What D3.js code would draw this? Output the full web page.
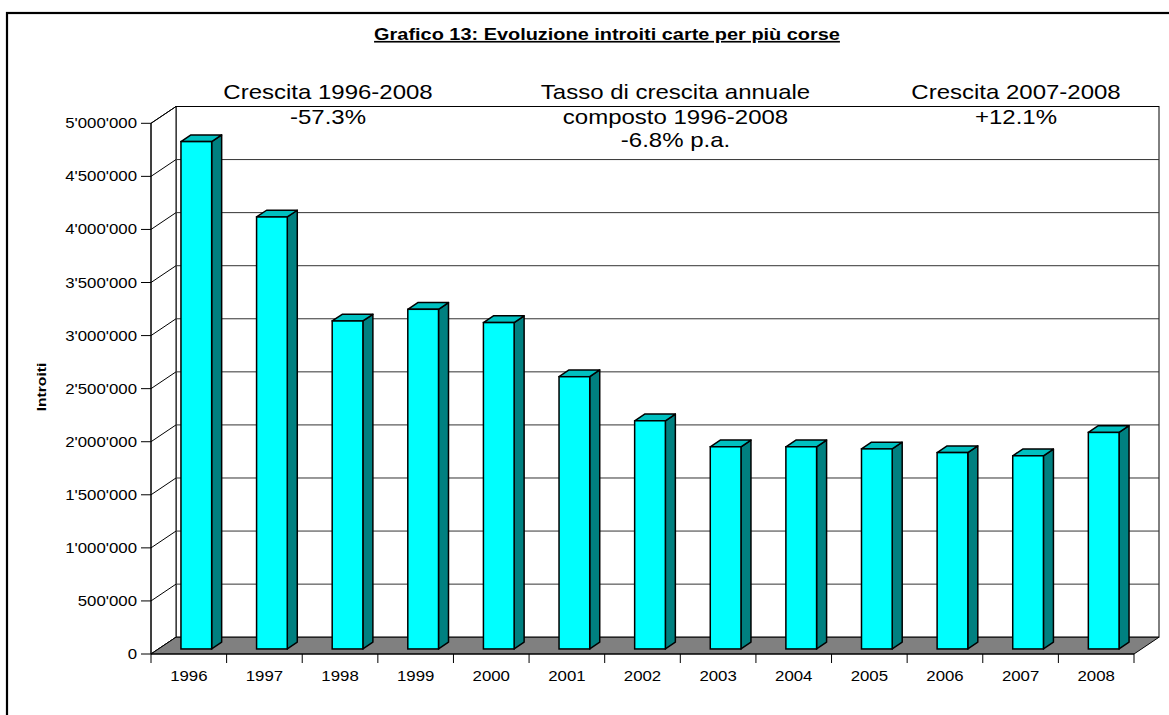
<!DOCTYPE html>
<html><head><meta charset="utf-8">
<script src="https://cdn.jsdelivr.net/npm/d3@7"></script>
<style>
html,body{margin:0;padding:0;background:#fff;}
text{font-family:"Liberation Sans",Arial,sans-serif;fill:#000;}
</style></head>
<body>
<svg id="c" width="1169" height="715"></svg>
<script>
const years = ["1996","1997","1998","1999","2000","2001","2002","2003","2004","2005","2006","2007","2008"];
const introiti = [4780000,4070000,3090000,3200000,3075000,2565000,2150000,1905000,1905000,1885000,1850000,1820000,2040000];
const yTicks = [0,500000,1000000,1500000,2000000,2500000,3000000,3500000,4000000,4500000,5000000];
const titleText = "Grafico 13: Evoluzione introiti carte per più corse";
const yAxisTitle = "Introiti";
const notes = [
  {cx:328, lines:["Crescita 1996-2008","-57.3%"]},
  {cx:675.5, lines:["Tasso di crescita annuale","composto 1996-2008","-6.8% p.a."]},
  {cx:1016, lines:["Crescita 2007-2008","+12.1%"]}
];

const svg = d3.select("#c");
const SX = 1.2;
const DX = 25, DY = -16.8;
const x0 = 151, x1 = 1134;
const y = d3.scaleLinear().domain([0,5000000]).range([654,123.3]);
const xb = d3.scaleBand().domain(years).range([x0,x1]).paddingInner(0.594).paddingOuter(0.297);
const xc = d3.scaleBand().domain(years).range([x0,x1]);
const loc = d3.formatLocale({decimal:".", thousands:"'", grouping:[3], currency:["",""]});
const fmt = loc.format(",d");

// outer frame
svg.append("rect").attr("x",7).attr("y",13).attr("width",1250).attr("height",800)
  .attr("fill","none").attr("stroke","#000").attr("stroke-width",2.2);

// title
svg.append("text").attr("transform",`translate(607,40) scale(${SX},1)`)
  .attr("text-anchor","middle").attr("font-weight","bold").attr("font-size",16.6)
  .style("text-decoration","underline").text(titleText);

const yTop = y(5000000), yBot = y(0);
// back wall
svg.append("rect").attr("x",x0+DX).attr("y",yTop+DY).attr("width",x1-x0).attr("height",yBot-yTop)
  .attr("fill","#fff").attr("stroke","#000").attr("stroke-width",1);
// left wall
svg.append("path").attr("d",`M${x0},${yTop}L${x0+DX},${yTop+DY}L${x0+DX},${yBot+DY}L${x0},${yBot}Z`)
  .attr("fill","#fff").attr("stroke","#000").attr("stroke-width",1);
// gridlines
const g = svg.append("g");
yTicks.forEach(t=>{
  const yy = y(t);
  g.append("line").attr("x1",x0).attr("y1",yy).attr("x2",x0+DX).attr("y2",yy+DY).attr("stroke","#000").attr("stroke-width",1);
  if(t>0 && t<5000000){
    g.append("line").attr("x1",x0+DX).attr("y1",yy+DY).attr("x2",x1+DX).attr("y2",yy+DY).attr("stroke","#333").attr("stroke-width",1);
  }
});
// floor
svg.append("path").attr("d",`M${x0},${yBot}L${x0+DX},${yBot+DY}L${x1+DX},${yBot+DY}L${x1},${yBot}Z`)
  .attr("fill","#808080").attr("stroke","#000").attr("stroke-width",1);

// bars
const fr = 0.3, bk = 0.7;
const bars = svg.append("g");
years.forEach((yr,i)=>{
  const v = introiti[i];
  const bx = xb(yr), w = xb.bandwidth();
  const t = y(v), b = y(0);
  const fx = fr*DX, fy = fr*DY, kx = bk*DX, ky = bk*DY;
  const sw = 1.5;
  bars.append("path").attr("d",`M${bx+w+fx},${t+fy}L${bx+w+kx},${t+ky}L${bx+w+kx},${b+ky}L${bx+w+fx},${b+fy}Z`)
    .attr("fill","#008080").attr("stroke","#000").attr("stroke-width",sw).attr("stroke-linejoin","round");
  bars.append("path").attr("d",`M${bx+fx},${t+fy}L${bx+kx},${t+ky}L${bx+w+kx},${t+ky}L${bx+w+fx},${t+fy}Z`)
    .attr("fill","#00C0C0").attr("stroke","#000").attr("stroke-width",sw).attr("stroke-linejoin","round");
  bars.append("rect").attr("x",bx+fx).attr("y",t+fy).attr("width",w).attr("height",b-t)
    .attr("fill","#00FFFF").attr("stroke","#000").attr("stroke-width",sw);
});

// y axis
svg.append("line").attr("x1",x0).attr("y1",yTop).attr("x2",x0).attr("y2",yBot+9).attr("stroke","#000").attr("stroke-width",1);
yTicks.forEach(t=>{
  const yy = y(t);
  svg.append("line").attr("x1",x0-10).attr("x2",x0).attr("y1",yy).attr("y2",yy).attr("stroke","#000").attr("stroke-width",1);
  svg.append("text").attr("transform",`translate(137,${yy+5}) scale(${SX},1)`)
    .attr("text-anchor","end").attr("font-size",14).text(fmt(t));
});
// x axis
svg.append("line").attr("x1",x0).attr("x2",x1).attr("y1",yBot).attr("y2",yBot).attr("stroke","#000").attr("stroke-width",1);
years.forEach((yr,i)=>{
  const xx = xc(yr);
  svg.append("line").attr("x1",xx+xc.bandwidth()).attr("x2",xx+xc.bandwidth()).attr("y1",yBot).attr("y2",yBot+9).attr("stroke","#000").attr("stroke-width",1);
  svg.append("text").attr("transform",`translate(${xx+xc.bandwidth()/2},681) scale(${SX},1)`)
    .attr("text-anchor","middle").attr("font-size",14).text(yr);
});
// y axis title
svg.append("text").attr("transform",`translate(46,387) rotate(-90) scale(${SX},1)`)
  .attr("text-anchor","middle").attr("font-weight","bold").attr("font-size",13).text(yAxisTitle);

// annotations
const base = [98.5,123.5,146.5];
notes.forEach(n=>{
  n.lines.forEach((l,j)=>{
    svg.append("text").attr("transform",`translate(${n.cx},${base[j]}) scale(${SX},1)`)
      .attr("text-anchor","middle").attr("font-size",20).text(l);
  });
});
</script>
</body></html>
